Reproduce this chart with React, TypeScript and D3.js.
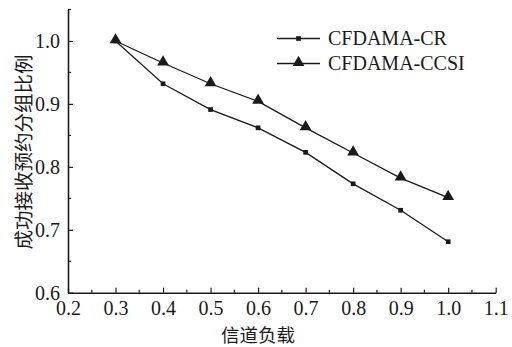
import { useRef, useEffect } from "react";
import * as d3 from "d3";

const loads = [0.3, 0.4, 0.5, 0.6, 0.7, 0.8, 0.9, 1.0];
const crValues = [1.0, 0.932, 0.891, 0.862, 0.823, 0.773, 0.731, 0.681];
const ccsiValues = [1.0, 0.965, 0.932, 0.904, 0.862, 0.822, 0.782, 0.751];
const xTicks = [0.2, 0.3, 0.4, 0.5, 0.6, 0.7, 0.8, 0.9, 1.0, 1.1];
const yTicks = [0.6, 0.7, 0.8, 0.9, 1.0];
const seriesNames = ["CFDAMA-CR", "CFDAMA-CCSI"];
const xTitle = "信道负载";
const yTitle = "成功接收预约分组比例";

const FONT = "'Liberation Serif', 'Times New Roman', 'Noto Sans CJK SC', serif";
const CJK = "'Noto Sans CJK SC', 'Liberation Serif', serif";
const INK = "#1a1a1a";

export default function App() {
  const svgRef = useRef<SVGSVGElement>(null);

  useEffect(() => {
    if (!svgRef.current) return;
    const svg = d3.select(svgRef.current);
    svg.selectAll("*").remove();

    const W = 512, H = 347;
    const margin = { top: 9.5, right: 16.3, bottom: 54.3, left: 68 };
    const width = W - margin.left - margin.right;
    const height = H - margin.top - margin.bottom;

    const g = svg.append("g").attr("transform", `translate(${margin.left},${margin.top})`);

    const x = d3.scaleLinear().domain([0.2, 1.1]).range([0, width]);
    const y = d3.scaleLinear().domain([0.6, 1.05]).range([height, 0]);

    // Minor ticks
    const xMinor = d3.range(0.25, 1.1, 0.1);
    const yMinor = d3.range(0.65, 1.06, 0.1);
    g.selectAll(".xminor").data(xMinor).enter().append("line")
      .attr("x1", d => x(d)).attr("x2", d => x(d)).attr("y1", height).attr("y2", height - 3)
      .attr("stroke", INK).attr("stroke-width", 1.2);
    g.selectAll(".yminor").data(yMinor).enter().append("line")
      .attr("x1", 0).attr("x2", 3).attr("y1", d => y(d)).attr("y2", d => y(d))
      .attr("stroke", INK).attr("stroke-width", 1.2);

    // Axes
    g.append("g").attr("transform", `translate(0,${height})`)
      .call(d3.axisBottom(x).tickValues(xTicks).tickFormat(d3.format(".1f")).tickSizeInner(-5).tickSizeOuter(0).tickPadding(8))
      .call(a => {
        a.select(".domain").attr("stroke", INK).attr("stroke-width", 1.6);
        a.selectAll("line").attr("stroke", INK).attr("stroke-width", 1.2);
        a.selectAll("text").attr("fill", INK).style("font-size", "20px").style("font-family", FONT);
      });
    g.append("g")
      .call(d3.axisLeft(y).tickValues(yTicks).tickFormat(d3.format(".1f")).tickSizeInner(-5).tickSizeOuter(0).tickPadding(8))
      .call(a => {
        a.select(".domain").attr("stroke", INK).attr("stroke-width", 1.6);
        a.selectAll("line").attr("stroke", INK).attr("stroke-width", 1.2);
        a.selectAll("text").attr("fill", INK).style("font-size", "20px").style("font-family", FONT);
      });

    const crData = loads.map((l, i) => ({ x: l, y: crValues[i] }));
    const ccsiData = loads.map((l, i) => ({ x: l, y: ccsiValues[i] }));
    const line = d3.line<{ x: number; y: number }>().x(d => x(d.x)).y(d => y(d.y));

    g.append("path").datum(crData).attr("fill", "none").attr("stroke", INK).attr("stroke-width", 1.3).attr("d", line);
    g.append("path").datum(ccsiData).attr("fill", "none").attr("stroke", INK).attr("stroke-width", 1.3).attr("d", line);

    const square = d3.symbol().type(d3.symbolSquare).size(22);
    const tri = d3.symbol().type(d3.symbolTriangle).size(60);

    g.selectAll(".cr").data(crData).enter().append("path")
      .attr("transform", d => `translate(${x(d.x)},${y(d.y)})`).attr("d", square).attr("fill", INK);
    g.selectAll(".ccsi").data(ccsiData).enter().append("path")
      .attr("transform", d => `translate(${x(d.x)},${y(d.y) - 1})`).attr("d", tri).attr("fill", INK);

    // Legend
    const legend = svg.append("g");
    const legendRows = [
      { name: seriesNames[0], sym: square, dy: 0 },
      { name: seriesNames[1], sym: tri, dy: 25 },
    ];
    legendRows.forEach(r => {
      const ly = 38.5 + r.dy;
      legend.append("line").attr("x1", 277).attr("x2", 320).attr("y1", ly).attr("y2", ly)
        .attr("stroke", INK).attr("stroke-width", 1.3);
      legend.append("path").attr("transform", `translate(298.5,${ly - (r.sym === tri ? 1 : 0)})`).attr("d", r.sym).attr("fill", INK);
      legend.append("text").attr("x", 328).attr("y", ly + 6.5).style("font-size", "20px").style("font-family", FONT)
        .attr("fill", INK).text(r.name);
    });

    // Axis titles
    svg.append("text").attr("x", margin.left + x(0.6)).attr("y", 342).attr("text-anchor", "middle")
      .style("font-size", "18.5px").style("font-family", CJK).attr("fill", INK).text(xTitle);
    svg.append("text").attr("transform", `translate(31,152) rotate(-90)`).attr("text-anchor", "middle")
      .style("font-size", "19.5px").style("font-family", CJK).attr("fill", INK).text(yTitle);
  }, []);

  return (
    <div style={{ position: "absolute", left: 0, top: 0, width: 512, height: 347, background: "#fff", overflow: "hidden" }}>
      <svg ref={svgRef} width={512} height={347} style={{ display: "block" }} />
    </div>
  );
}
